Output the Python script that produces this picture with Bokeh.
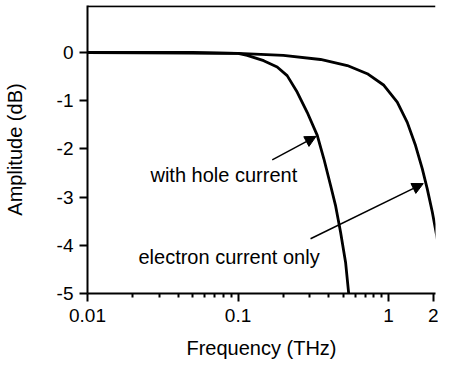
from bokeh.plotting import figure
from bokeh.models import (Range1d, FixedTicker, CustomJSTickFormatter, Span,
                          Arrow, NormalHead, Label)
from bokeh.embed import file_html
from bokeh.resources import INLINE

# ---- data ----
hole_freq = [0.01, 0.05, 0.1, 0.115, 0.148, 0.182, 0.212, 0.247, 0.288, 0.336,
             0.372, 0.412, 0.444, 0.48, 0.518, 0.545]
hole_db = [0.0, 0.0, -0.02, -0.06, -0.17, -0.30, -0.48, -0.82, -1.24, -1.72,
           -2.21, -2.76, -3.17, -3.73, -4.35, -5.04]

elec_freq = [0.01, 0.1, 0.2, 0.353, 0.532, 0.722, 0.931, 1.142, 1.331, 1.511,
             1.674, 1.807, 1.952, 2.107, 2.24, 2.356]
elec_db = [0.0, -0.02, -0.06, -0.145, -0.27, -0.44, -0.68, -1.03, -1.45, -1.93,
           -2.41, -2.83, -3.31, -3.87, -4.35, -4.70]

x_major = [0.01, 0.1, 1, 2]
x_minor = [0.02, 0.03, 0.04, 0.05, 0.06, 0.07, 0.08, 0.09,
           0.2, 0.3, 0.4, 0.5, 0.6, 0.7, 0.8, 0.9]
y_major = [0, -1, -2, -3, -4, -5]

label_hole = "with hole current"
label_elec = "electron current only"

FONT = "Liberation Sans"

p = figure(width=438, height=367, x_axis_type="log",
           x_range=Range1d(0.01, 2.05), y_range=Range1d(-5, 0.975),
           output_backend="svg", toolbar_location=None,
           min_border_left=87, min_border_right=3, min_border_top=5,
           min_border_bottom=74)
p.outline_line_color = None
p.grid.visible = False
p.background_fill_color = "white"
p.border_fill_color = "white"

# curves
p.line(hole_freq, hole_db, line_color="black", line_width=2.8)
p.line(elec_freq, elec_db, line_color="black", line_width=2.8)

# top border
p.add_layout(Span(location=0.96, dimension="width", line_color="black",
                  line_width=2))

# axes styling
for ax in (p.xaxis[0], p.yaxis[0]):
    ax.axis_line_width = 2
    ax.axis_line_color = "black"
    ax.major_tick_line_width = 2
    ax.major_tick_in = 0
    ax.major_tick_out = 8
    ax.minor_tick_line_width = 2
    ax.minor_tick_in = 0
    ax.major_label_text_font = FONT
    ax.major_label_text_color = "black"
    ax.axis_label_text_font = FONT
    ax.axis_label_text_font_style = "normal"
    ax.axis_label_text_color = "black"

xa = p.xaxis[0]
xa.ticker = FixedTicker(ticks=x_major, minor_ticks=x_minor)
xa.formatter = CustomJSTickFormatter(code="return String(tick);")
xa.minor_tick_out = 4
xa.major_label_text_font_size = "19px"
xa.major_label_standoff = 7
xa.axis_label = "Frequency (THz)"
xa.axis_label_text_font_size = "20px"
xa.axis_label_standoff = 12

ya = p.yaxis[0]
ya.ticker = FixedTicker(ticks=y_major, minor_ticks=[])
ya.formatter = CustomJSTickFormatter(code="return tick.toFixed(0);")
ya.minor_tick_out = 0
ya.major_label_text_font_size = "19px"
ya.major_label_standoff = 6
ya.axis_label = "Amplitude (dB)"
ya.axis_label_text_font_size = "20px"
ya.axis_label_standoff = 28

# annotations
p.add_layout(Label(x=0.0262, y=-2.55, text=label_hole, text_font=FONT,
                   text_font_size="20px", text_baseline="middle",
                   text_align="left", text_color="black"))
p.add_layout(Label(x=0.0218, y=-4.25, text=label_elec, text_font=FONT,
                   text_font_size="20px", text_baseline="middle",
                   text_align="left", text_color="black"))

head1 = NormalHead(size=11, fill_color="black", line_color="black")
head2 = NormalHead(size=11, fill_color="black", line_color="black")
p.add_layout(Arrow(end=head1, x_start=0.1687, y_start=-2.226, x_end=0.33,
                   y_end=-1.74, line_color="black", line_width=1.5))
p.add_layout(Arrow(end=head2, x_start=0.3032, y_start=-3.865, x_end=1.70,
                   y_end=-2.72, line_color="black", line_width=1.5))

open("out.html", "w").write(file_html(p, INLINE))
